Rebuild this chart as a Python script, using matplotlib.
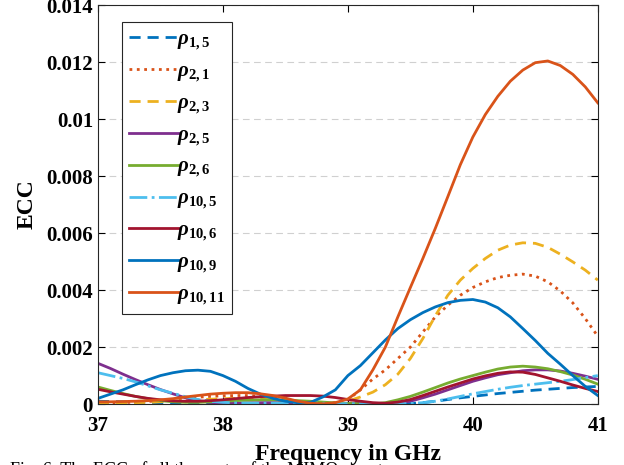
import matplotlib
matplotlib.use("Agg")
import matplotlib.pyplot as plt
import numpy as np

plt.rcParams['font.family'] = ['Liberation Serif', 'DejaVu Serif']
plt.rcParams['font.weight'] = 'bold'
plt.rcParams['mathtext.fontset'] = 'custom'
plt.rcParams['mathtext.rm'] = 'Liberation Serif:bold'
plt.rcParams['mathtext.it'] = 'Liberation Serif:italic:bold'
plt.rcParams['mathtext.bf'] = 'Liberation Serif:bold'

# frequency in GHz, 0.1 GHz step
freq = np.linspace(37.0, 41.0, 41)

rho_1_5 = [0.0001, 0.00009, 0.00008, 0.00007, 0.00006, 0.00005, 0.00004, 0.00004, 0.00003, 0.00003,
           0.00003, 0.00003, 0.00003, 0.00003, 0.00003, 0.00003, 0.00002, 0.00002, 0.00002, 0.00002,
           0.00002, 0.00002, 0.00002, 0.00002, 0.00002, 0.00002, 0.00005, 0.0001, 0.00016, 0.00022,
           0.00027, 0.00032, 0.00037, 0.00041, 0.00045, 0.00049, 0.00052, 0.00055, 0.00058, 0.0006,
           0.00062]
rho_2_1 = [0.00003, 0.00004, 0.00005, 0.00007, 0.00009, 0.00012, 0.00016, 0.0002, 0.00024, 0.00027,
           0.00029, 0.0003, 0.0003, 0.00027, 0.00022, 0.00015, 0.00008, 0.00003, 0.00002, 0.00005,
           0.00015, 0.0005, 0.00088, 0.0012, 0.0016, 0.002, 0.00253, 0.00306, 0.00347, 0.00382,
           0.00409, 0.00429, 0.00444, 0.00452, 0.00456, 0.00449, 0.00429, 0.00397, 0.00355, 0.003,
           0.00238]
rho_2_3 = [0.00003, 0.00003, 0.00004, 0.00005, 0.00006, 0.00008, 0.0001, 0.00012, 0.00015, 0.00017,
           0.00019, 0.0002, 0.0002, 0.00018, 0.00015, 0.00011, 0.00006, 0.00002, 0.00001, 0.00003,
           0.0001, 0.00025, 0.00042, 0.00068, 0.00105, 0.0016, 0.0023, 0.0031, 0.00382, 0.00435,
           0.00476, 0.00511, 0.0054, 0.00558, 0.00566, 0.00564, 0.0055, 0.00526, 0.00499, 0.0047,
           0.00435]
rho_2_5 = [0.00143, 0.00125, 0.00105, 0.00086, 0.00068, 0.00051, 0.00036, 0.00022, 0.00012, 0.00006,
           0.00003, 0.00003, 0.00004, 0.00005, 0.00005, 0.00005, 0.00004, 0.00004, 0.00003, 0.00003,
           0.00003, 0.00002, 0.00001, 0.00001, 0.00005, 0.0001, 0.00022, 0.00035, 0.0005, 0.00065,
           0.0008, 0.00092, 0.00103, 0.0011, 0.00117, 0.0012, 0.0012, 0.00116, 0.00108, 0.00098,
           0.00087]
rho_2_6 = [0.0006, 0.00048, 0.00037, 0.00027, 0.00019, 0.00012, 0.00008, 0.00006, 0.00006, 0.00008,
           0.0001, 0.00012, 0.00014, 0.00015, 0.00015, 0.00014, 0.00012, 0.0001, 0.00007, 0.00004,
           0.00002, 0.00001, 0.0, 0.00005, 0.00015, 0.00027, 0.00042, 0.00058, 0.00074, 0.00088,
           0.001, 0.00112, 0.00123, 0.0013, 0.00133, 0.0013, 0.00124, 0.00114, 0.00102, 0.00087,
           0.0007]
rho_10_5 = [0.0011, 0.001, 0.0009, 0.00078, 0.00064, 0.0005, 0.00038, 0.00026, 0.00016, 0.0001,
            0.00006, 0.00004, 0.00003, 0.00003, 0.00003, 0.00003, 0.00003, 0.00003, 0.00003, 0.00002,
            0.00001, 0.00001, 0.00001, 0.00001, 0.00001, 0.00002, 0.00005, 0.0001, 0.00018, 0.00027,
            0.00036, 0.00044, 0.00052, 0.00059, 0.00065, 0.0007, 0.00075, 0.0008, 0.00086, 0.00093,
            0.001]
rho_10_6 = [0.00052, 0.00043, 0.00035, 0.00027, 0.0002, 0.00015, 0.00011, 0.0001, 0.0001, 0.00012,
            0.00015, 0.00019, 0.00023, 0.00026, 0.00028, 0.0003, 0.0003, 0.0003, 0.00028, 0.00023,
            0.00016, 0.0001, 0.00005, 0.00003, 0.00007, 0.00016, 0.0003, 0.00045, 0.0006, 0.00074,
            0.00088, 0.00099, 0.00108, 0.00113, 0.00112, 0.00104, 0.00092, 0.0008, 0.00067, 0.00055,
            0.00044]
rho_10_9 = [0.0002, 0.00035, 0.0005, 0.00068, 0.00085, 0.001, 0.0011, 0.00117, 0.00119, 0.00115,
            0.001, 0.0008, 0.00055, 0.00035, 0.0002, 0.0001, 0.00005, 0.00006, 0.00025, 0.0005,
            0.001, 0.00135, 0.0018, 0.00225, 0.00265, 0.00296, 0.00321, 0.00341, 0.00356, 0.00364,
            0.00367, 0.00358, 0.00338, 0.00306, 0.00265, 0.00223, 0.00178, 0.0014, 0.001, 0.00062,
            0.0003]
rho_10_11 = [0.00008, 0.00008, 0.00009, 0.0001, 0.00012, 0.00015, 0.00019, 0.00025, 0.0003, 0.00035,
             0.00038, 0.0004, 0.0004, 0.00036, 0.0003, 0.00021, 0.0001, 0.00003, 0.00001, 0.00005,
             0.00018, 0.0005, 0.0012, 0.002, 0.00306, 0.00409, 0.00511, 0.00617, 0.00728, 0.0084,
             0.00937, 0.01016, 0.0108, 0.01133, 0.01172, 0.01198, 0.01204, 0.01188, 0.01157, 0.01113,
             0.01057]

labels = [r'$\rho_{1,5}$', r'$\rho_{2,1}$', r'$\rho_{2,3}$', r'$\rho_{2,5}$', r'$\rho_{2,6}$',
          r'$\rho_{10,5}$', r'$\rho_{10,6}$', r'$\rho_{10,9}$', r'$\rho_{10,11}$']
series = [rho_1_5, rho_2_1, rho_2_3, rho_2_5, rho_2_6, rho_10_5, rho_10_6, rho_10_9, rho_10_11]
colors = ['#0072BD', '#D95319', '#EDB120', '#7E2F8E', '#77AC30',
          '#4DBEEE', '#A2142F', '#0072BD', '#D95319']
styles = [(0, (4, 2.5)), ':', (0, (4, 2.5)), '-', '-', '-.', '-', '-', '-']

fig = plt.figure(figsize=(6.24, 4.65), dpi=100)
ax = fig.add_axes([0.157, 0.131, 0.801, 0.858])

for y, lab, c, ls in zip(series, labels, colors, styles):
    ax.plot(freq, y, color=c, linestyle=ls, linewidth=2, label=lab)

ax.set_xlim(37, 41)
ax.set_ylim(0, 0.014)
ax.set_xticks([37, 38, 39, 40, 41])
ax.set_xticklabels(['37', '38', '39', '40', '41'])
ax.set_yticks([0, 0.002, 0.004, 0.006, 0.008, 0.01, 0.012, 0.014])
ax.set_yticklabels(['0', '0.002', '0.004', '0.006', '0.008', '0.01', '0.012', '0.014'])
ax.tick_params(direction='in', top=True, right=True, length=5, labelsize=15, width=0.8)
ax.tick_params(axis='x', pad=8.5)
ax.yaxis.grid(True, color='#d0d0d0', linestyle=(0, (6, 4)), linewidth=0.8)
ax.set_axisbelow(True)
for sp in ax.spines.values():
    sp.set_color('#262626')
    sp.set_linewidth(0.8)

ax.set_xlabel('Frequency in GHz', fontsize=17, fontweight='bold', labelpad=6)
ax.set_ylabel('ECC', fontsize=17, fontweight='bold', labelpad=6)

leg = ax.legend(loc='upper left', bbox_to_anchor=(0.048, 0.957), borderaxespad=0,
                fontsize=15, handlelength=2.4, handletextpad=-0.1, labelspacing=0.45,
                borderpad=0.35, fancybox=False, framealpha=1, edgecolor='#262626')
leg.get_frame().set_linewidth(0.8)

fig.text(0.016, -0.031, 'Fig. 6. The ECC of all the ports of the MIMO structure', fontsize=13,
         fontweight='normal', va='bottom')

fig.savefig('out.png', dpi=100)
